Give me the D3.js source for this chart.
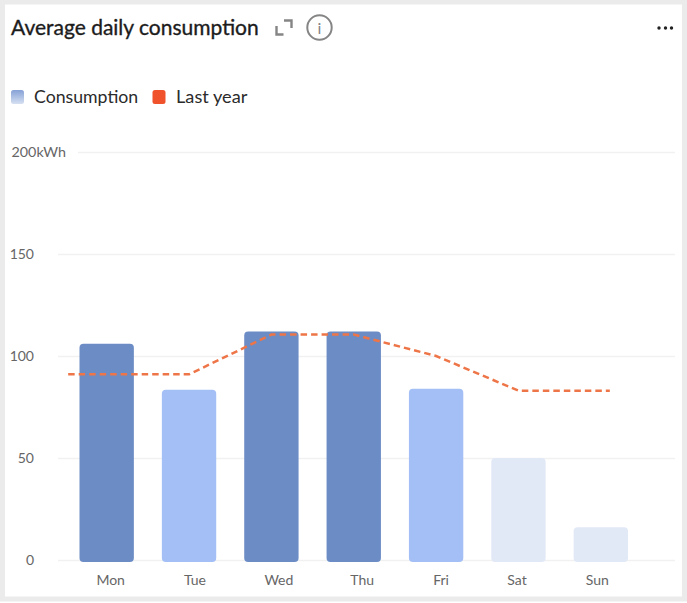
<!DOCTYPE html>
<html><head><meta charset="utf-8">
<script src="https://cdn.jsdelivr.net/npm/d3@7/dist/d3.min.js"></script>
<style>html,body{margin:0;padding:0;background:#fff}svg{display:block}text{font-family:Lato,"Noto Sans",sans-serif}</style>
</head><body><svg id="c" width="687" height="603"></svg>
<script>
const days = ["Mon","Tue","Wed","Thu","Fri","Sat","Sun"];
const consumption = [106,83.5,112,112,84,50,16];
const lastYear = [91,91,110.5,110.5,100,83,83];
const barColors = ["#6b8cc5","#a3bff5","#6b8cc5","#6b8cc5","#a3bff5","#e1e8f6","#e1e8f6"];
const yTicks = [0,50,100,150,200];
const legendItems = ["Consumption","Last year"];
const title = "Average daily consumption";

const svg = d3.select("#c");
const defs = svg.append("defs");
const g = defs.append("linearGradient").attr("id","lg").attr("x1",0).attr("x2",0).attr("y1",0).attr("y2",1);
g.append("stop").attr("offset",0).attr("stop-color","#86a1d6");
g.append("stop").attr("offset",1).attr("stop-color","#d6e0f2");

svg.append("rect").attr("x",2.5).attr("y",2).attr("width",682).attr("height",597)
  .attr("fill","#fff").attr("stroke","#ebebeb").attr("stroke-width",5);

const y = d3.scaleLinear().domain([0,200]).range([560,152]);
const x = d3.scaleBand().domain(days).range([65.5,642]).paddingInner(0.34).paddingOuter(0.17);

// grid
svg.append("g").selectAll("line").data(yTicks).join("line")
  .attr("x1",d=>d===200?78:58).attr("x2",675)
  .attr("y1",d=>y(d)+.5).attr("y2",d=>y(d)+.5)
  .attr("stroke","#f1f1f2").attr("stroke-width",1.3);

// y labels
svg.append("g").selectAll("text").data(yTicks).join("text")
  .attr("x",d=>d===200?11.5:34).attr("y",d=>y(d)+5)
  .attr("text-anchor",d=>d===200?"start":"end")
  .attr("fill","#666").attr("font-size",d=>d===200?14.3:14)
  .text(d=>d===200?d+"kWh":d);

// bars
svg.append("g").selectAll("path").data(days).join("path")
  .attr("d",(d,i)=>{
    const l=x(d), w=x.bandwidth(), t=y(consumption[i]), b=y(0)+2, r=4;
    const p=d3.path();
    p.moveTo(l+r,t);p.lineTo(l+w-r,t);p.arcTo(l+w,t,l+w,t+r,r);p.lineTo(l+w,b-r);
    p.arcTo(l+w,b,l+w-r,b,r);p.lineTo(l+r,b);p.arcTo(l,b,l,b-r,r);p.lineTo(l,t+r);p.arcTo(l,t,l+r,t,r);p.closePath();
    return p.toString();
  })
  .attr("fill",(d,i)=>barColors[i]);

// last-year line
const cx = d=>x(d)+x.bandwidth()/2;
const extendLeft = 38.5, extendRight = 9;
const linePts = days.map((d,i)=>[cx(d),y(lastYear[i])]);
linePts[0]=[cx(days[0])-extendLeft,linePts[0][1]];
linePts[6]=[cx(days[6])+extendRight,linePts[6][1]];
svg.append("path").attr("d",d3.line()(linePts))
  .attr("fill","none").attr("stroke","#ee7547").attr("stroke-width",2.5).attr("stroke-dasharray","6.5 4");

// x labels (the reference's labels drift from the band centres)
const labelShift = [4,6,7.5,8.5,5,-1.5,-3.5];
svg.append("g").selectAll("text").data(days).join("text")
  .attr("x",(d,i)=>cx(d)+labelShift[i]).attr("y",585)
  .attr("text-anchor","middle").attr("fill","#666").attr("font-size",14)
  .text(d=>d);

// title
svg.append("text").attr("x",11).attr("y",35).attr("font-size",21).attr("fill","#1c1c1c")
  .attr("stroke","#1c1c1c").attr("stroke-width",0.35).text(title);

// expand icon
svg.append("path").attr("d","M276.5 26v8.5h7 M284 20.5h7.5v7.5").attr("fill","none").attr("stroke","#858585").attr("stroke-width",2.4);
// info icon
svg.append("circle").attr("cx",319.5).attr("cy",27.5).attr("r",12.2).attr("fill","none").attr("stroke","#858585").attr("stroke-width",2);
svg.append("text").attr("x",319.5).attr("y",33.5).attr("text-anchor","middle").attr("font-size",16).attr("fill","#858585").text("i");
// menu dots
svg.append("g").selectAll("circle").data([659,665.5,671.5]).join("circle")
  .attr("cx",d=>d).attr("cy",28).attr("r",1.7).attr("fill","#222");

// legend
const lx=[11,152.5], lt=[34,176], lc=["url(#lg)","#f0522b"];
svg.append("g").selectAll("rect").data(legendItems).join("rect")
  .attr("x",(d,i)=>lx[i]).attr("y",90).attr("width",13).attr("height",14).attr("rx",2.5).attr("fill",(d,i)=>lc[i]);
svg.append("g").selectAll("text").data(legendItems).join("text")
  .attr("x",(d,i)=>lt[i]).attr("y",103).attr("font-size",(d,i)=>i?18.2:17.7).attr("fill","#2b2b2b").text(d=>d);
</script></body></html>
